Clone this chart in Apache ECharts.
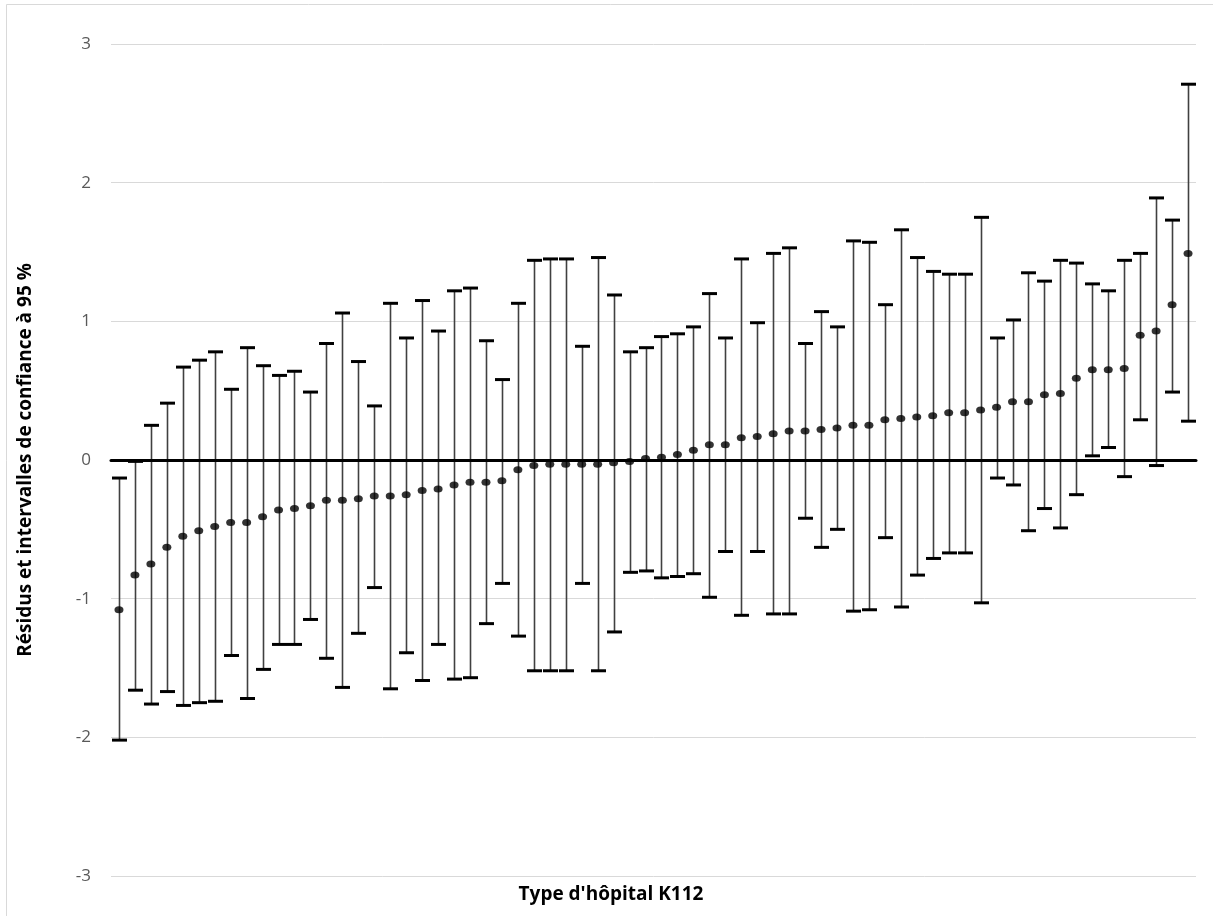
<!DOCTYPE html>
<html>
<head>
<meta charset="utf-8">
<script src="https://cdn.jsdelivr.net/npm/echarts@6/dist/echarts.min.js"></script>
<style>
html,body{margin:0;padding:0;background:#fff;}
#chart{width:1213px;height:916px;}
</style>
</head>
<body>
<div id="chart"></div>
<script>
// Residuals (point estimates) per hospital, sorted
const residus = [
  -1.08,-0.83,-0.75,-0.63,-0.55,-0.51,-0.48,-0.45,-0.45,-0.41,
  -0.36,-0.35,-0.33,-0.29,-0.29,-0.28,-0.26,-0.26,-0.25,-0.22,
  -0.21,-0.18,-0.16,-0.16,-0.15,-0.07,-0.04,-0.03,-0.03,-0.03,
  -0.03,-0.02,-0.01,0.01,0.02,0.04,0.07,0.11,0.11,0.16,
  0.17,0.19,0.21,0.21,0.22,0.23,0.25,0.25,0.29,0.30,
  0.31,0.32,0.34,0.34,0.36,0.38,0.42,0.42,0.47,0.48,
  0.59,0.65,0.65,0.66,0.90,0.93,1.12,1.49
];
// Lower bound of 95% confidence interval
const borneInf = [
  -2.02,-1.66,-1.76,-1.67,-1.77,-1.75,-1.74,-1.41,-1.72,-1.51,
  -1.33,-1.33,-1.15,-1.43,-1.64,-1.25,-0.92,-1.65,-1.39,-1.59,
  -1.33,-1.58,-1.57,-1.18,-0.89,-1.27,-1.52,-1.52,-1.52,-0.89,
  -1.52,-1.24,-0.81,-0.80,-0.85,-0.84,-0.82,-0.99,-0.66,-1.12,
  -0.66,-1.11,-1.11,-0.42,-0.63,-0.50,-1.09,-1.08,-0.56,-1.06,
  -0.83,-0.71,-0.67,-0.67,-1.03,-0.13,-0.18,-0.51,-0.35,-0.49,
  -0.25,0.03,0.09,-0.12,0.29,-0.04,0.49,0.28
];
// Upper bound of 95% confidence interval
const borneSup = [
  -0.13,-0.01,0.25,0.41,0.67,0.72,0.78,0.51,0.81,0.68,
  0.61,0.64,0.49,0.84,1.06,0.71,0.39,1.13,0.88,1.15,
  0.93,1.22,1.24,0.86,0.58,1.13,1.44,1.45,1.45,0.82,
  1.46,1.19,0.78,0.81,0.89,0.91,0.96,1.20,0.88,1.45,
  0.99,1.49,1.53,0.84,1.07,0.96,1.58,1.57,1.12,1.66,
  1.46,1.36,1.34,1.34,1.75,0.88,1.01,1.35,1.29,1.44,
  1.42,1.27,1.22,1.44,1.49,1.89,1.73,2.71
];
const hopitaux = residus.map((_, i) => String(i + 1));
const yTicks = [-3, -2, -1, 0, 1, 2, 3];

const chart = echarts.init(document.getElementById('chart'), null, {renderer: 'canvas'});
const errData = residus.map((_, i) => [i, borneInf[i], borneSup[i]]);

chart.setOption({
  animation: false,
  backgroundColor: '#ffffff',
  grid: {left: 111, right: 17, top: 44, bottom: 40, containLabel: false},
  xAxis: {
    type: 'category',
    data: hopitaux,
    boundaryGap: true,
    axisLine: {show: true, onZero: true, lineStyle: {color: '#000000', width: 3}},
    axisTick: {show: false},
    axisLabel: {show: false},
    splitLine: {show: false},
    z: 5
  },
  yAxis: {
    type: 'value',
    min: yTicks[0],
    max: yTicks[yTicks.length - 1],
    interval: 1,
    axisLine: {show: false},
    axisTick: {show: false},
    axisLabel: {color: '#595959', fontSize: 17, fontFamily: 'Open Sans', margin: 20},
    splitLine: {lineStyle: {color: '#d9d9d9', width: 1}}
  },
  graphic: [
    {type: 'rect', silent: true, z: -10,
     shape: {x: 6.5, y: 4.5, width: 1230, height: 930},
     style: {fill: null, stroke: '#d9d9d9', lineWidth: 1}},
    {type: 'text', silent: true,
     x: 26, y: 460, rotation: Math.PI / 2,
     style: {text: 'Résidus et intervalles de confiance à 95 %', fill: '#000000',
             font: 'bold 19px "Open Sans"', textAlign: 'center', textVerticalAlign: 'middle'}},
    {type: 'text', silent: true,
     x: 611, y: 895,
     style: {text: "Type d'hôpital K112", fill: '#000000',
             font: 'bold 19px "Open Sans"', textAlign: 'center', textVerticalAlign: 'middle'}}
  ],
  series: [
    {
      type: 'custom',
      z: 3,
      data: errData,
      renderItem: function (params, api) {
        const idx = api.value(0);
        const lo = api.coord([idx, api.value(1)]);
        const hi = api.coord([idx, api.value(2)]);
        const band = api.size([1, 0])[0];
        const capW = band * 0.94;
        const x = Math.round(lo[0]) + 0.5;
        return {
          type: 'group',
          children: [
            {type: 'line', shape: {x1: x, y1: lo[1], x2: x, y2: hi[1]},
             style: {stroke: '#404040', lineWidth: 1.6}},
            {type: 'rect', shape: {x: x - capW / 2, y: lo[1] - 1.5, width: capW, height: 3},
             style: {fill: '#000000'}},
            {type: 'rect', shape: {x: x - capW / 2, y: hi[1] - 1.5, width: capW, height: 3},
             style: {fill: '#000000'}}
          ]
        };
      }
    },
    {
      type: 'scatter',
      z: 4,
      data: residus,
      symbol: 'circle',
      symbolSize: [9, 7],
      itemStyle: {color: '#000000'}
    }
  ]
});
</script>
</body>
</html>
